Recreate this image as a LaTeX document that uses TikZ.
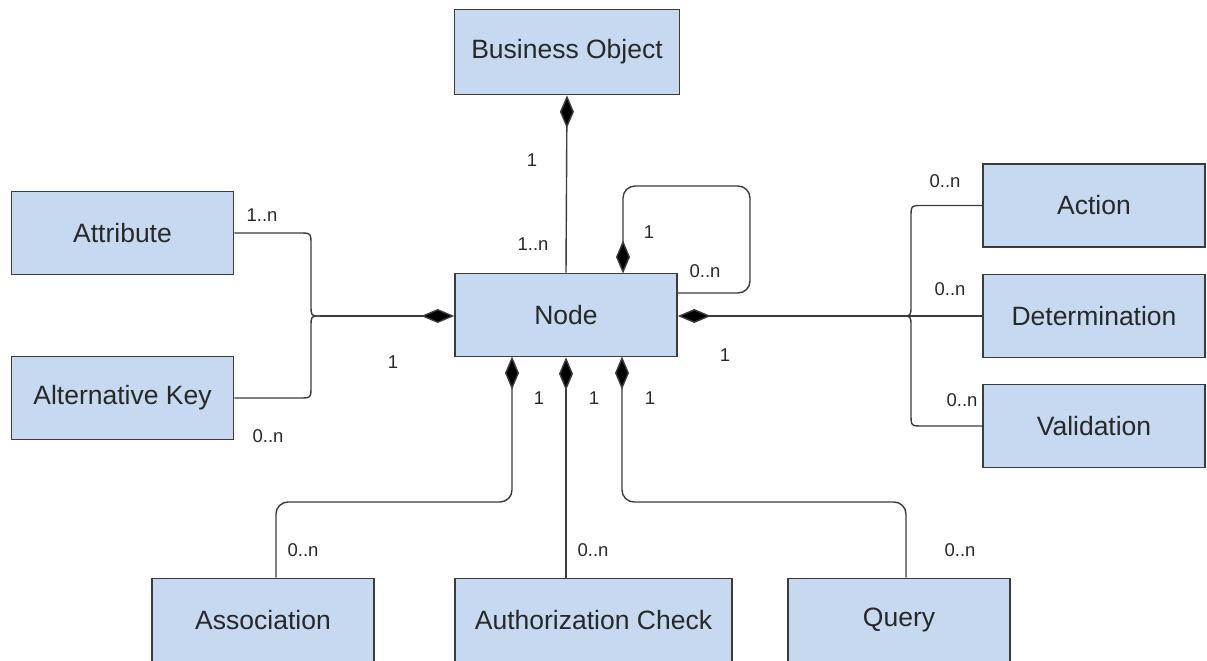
\documentclass[tikz,border=0pt]{standalone}
\usepackage{fontspec}
\setmainfont{Liberation Sans}
\usetikzlibrary{arrows.meta}
\definecolor{boxfill}{RGB}{198,217,240}
\definecolor{boxline}{RGB}{60,60,60}
\definecolor{txt}{RGB}{40,40,40}
\tikzset{
  entity/.style={draw=boxline, line width=1.6pt, fill=boxfill, text=txt,
    minimum width=222pt, minimum height=83pt, inner sep=0pt,
    font=\fontsize{26.5}{30}\selectfont},
  link/.style={draw=boxline, line width=1.4pt},
  bent/.style={link, rounded corners=12pt},
  comp/.style={-{Diamond[length=33pt,width=14pt,fill=black]}},
  mult/.style={text=txt, font=\fontsize{18.5}{22}\selectfont, inner sep=0pt}
}
\begin{document}
\begin{tikzpicture}[x=1pt,y=-1pt]
\useasboundingbox (0,0) rectangle (1207,661);
\begin{scope}
\clip (0,0) rectangle (1207,661);

% classes
\node[entity, minimum width=225pt, minimum height=85pt] (bo) at (567,52) {Business Object};
\node[entity, minimum width=222pt, minimum height=83pt] (nd) at (566,315) {Node};
\node[entity] (attr) at (122.5,233) {Attribute};
\node[entity] (altk) at (122.5,398) {Alternative Key};
\node[entity] (act) at (1094,205.5) {Action};
\node[entity] (det) at (1094,316) {Determination};
\node[entity] (val) at (1094,426) {Validation};
\node[entity] (asc) at (263,620) {Association};
\node[entity, minimum width=277pt] (auth) at (593.5,620) {Authorization Check};
\node[entity] (qry) at (899,620) {Query};

% junction points of the two fan-ins
\coordinate (jl) at (320,316);
\coordinate (jr) at (902,316);

% business object -- node
\draw[link, comp] (nd.north) -- (bo.south);

% left fan-in
\draw[link] (attr.east) -- (299,233) .. controls (311,233) .. (311,245) -- (311,305)
  .. controls (311,316) .. (jl);
\draw[link] (altk.east) -- (299,398) .. controls (311,398) .. (311,386) -- (311,327)
  .. controls (311,316) .. (jl);
\draw[link, comp] (jl) -- (nd.west |- jl);

% right fan-in
\draw[link] (act.west) -- (923,205.5) .. controls (911,205.5) .. (911,217.5) -- (911,305)
  .. controls (911,316) .. (jr);
\draw[link] (val.west) -- (923,426) .. controls (911,426) .. (911,414) -- (911,327)
  .. controls (911,316) .. (jr);
\draw[link] (jr) -- (det.west |- jr);
\draw[link, comp] (jr) -- (nd.east |- jr);

% self association
\draw[bent, comp] (nd.east |- 0,293) -- (750,293) -- (750,186) -- (623,186)
  -- (623,273.5);

% bottom associations
\draw[bent, comp] (asc.north -| 276,0) -- (276,502) -- (512,502) -- (512,356.5);
\draw[link, comp] (auth.north -| nd.south) -- (nd.south);
\draw[bent, comp] (qry.north -| 906,0) -- (906,502) -- (622,502) -- (622,356.5);

% multiplicities
\node[mult] (m1) at (532,160) {1};
\node[mult] (m2) at (533,244) {1..n};
\node[mult] (m3) at (262,215) {1..n};
\node[mult] (m4) at (268,436) {0..n};
\node[mult] (m5) at (393,362) {1};
\node[mult] (m6) at (649,232) {1};
\node[mult] (m7) at (705,271) {0..n};
\node[mult] (m8) at (725,355) {1};
\node[mult] (m9) at (945,181) {0..n};
\node[mult] (m10) at (950,289) {0..n};
\node[mult] (m11) at (962,400) {0..n};
\node[mult] (m12) at (539,398) {1};
\node[mult] (m13) at (594,398) {1};
\node[mult] (m14) at (650,398) {1};
\node[mult] (m15) at (303,550) {0..n};
\node[mult] (m16) at (593,550) {0..n};
\node[mult] (m17) at (960,550) {0..n};
\end{scope}
\end{tikzpicture}
\end{document}
